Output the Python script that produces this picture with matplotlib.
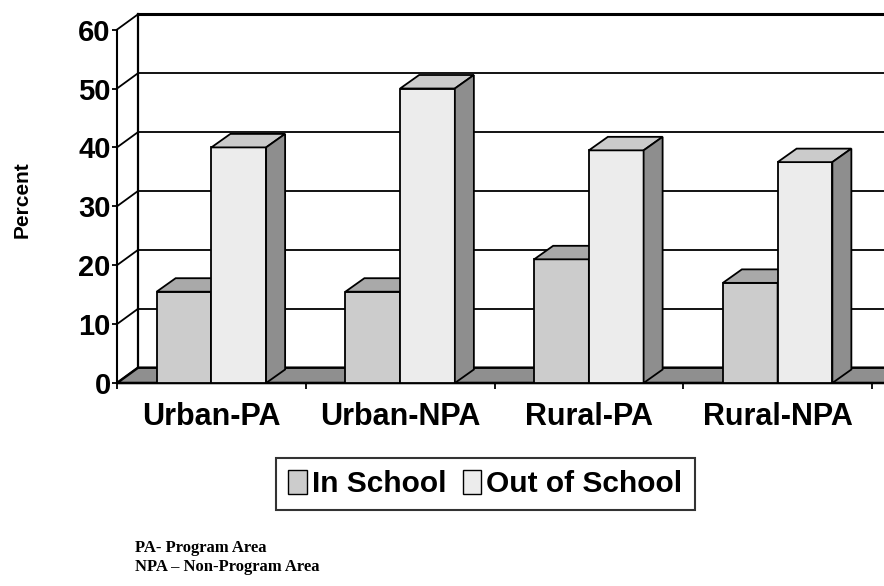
import numpy as np
import matplotlib.pyplot as plt
from matplotlib.patches import Polygon, Patch

categories = ['Urban-PA', 'Urban-NPA', 'Rural-PA', 'Rural-NPA']
in_school = [15.5, 15.5, 21, 17]
out_school = [40, 50, 39.5, 37.5]
series_names = ['In School', 'Out of School']
y_ticks = [0, 10, 20, 30, 40, 50, 60]
notes = ['PA- Program Area', 'NPA \u2013 Non-Program Area']

# цвета граней (перед, верх, бок)
IN_COLORS = ('#cccccc', '#a9a9a9', '#999999')
OUT_COLORS = ('#ececec', '#cbcbcb', '#8e8e8e')
FLOOR = '#8f8f8f'

W, H = 884, 586
# глубина "стенок" и столбиков (в единицах данных)
PX_X = 188.75   # пикселей на категорию
PX_Y = 5.89     # пикселей на 1 %
DXW, DYW = 21 / PX_X, 15.3 / PX_Y
DXB, DYB = 19 / PX_X, 13.5 / PX_Y

plt.rcParams['font.family'] = ['Liberation Sans', 'DejaVu Sans']
fig = plt.figure(figsize=(W / 100, H / 100), dpi=100)
left, bottom, top = 117, 383, 13
ax = fig.add_axes([left / W, (H - bottom) / H, (W - left) / W, (bottom - top) / H])
ax.set_xlim(0, (W - left) / PX_X)
ax.set_ylim(0, (bottom - top) / PX_Y)

n = len(categories)
ymax = y_ticks[-1]

# задняя стенка и линии сетки
for v in y_ticks[1:]:
    lw = 2.2 if v == ymax else 1.3
    ax.plot([DXW, n + DXW + 0.2], [v + DYW, v + DYW], color='black', lw=lw, clip_on=False, zorder=1)
# левая стенка
for v in y_ticks:
    ax.plot([0, DXW], [v, v + DYW], color='black', lw=1.3, clip_on=False, zorder=1)
ax.plot([DXW, DXW], [DYW, ymax + DYW], color='black', lw=1.6, clip_on=False, zorder=1)

# пол
floor = Polygon([(0, 0), (n + 0.2, 0), (n + 0.2 + DXW, DYW), (DXW, DYW)], closed=True,
                facecolor=FLOOR, edgecolor='black', lw=1.8, clip_on=False, zorder=2)
ax.add_patch(floor)

x = np.arange(n) + 0.5
bw = 0.29


def draw_bars(vals, xpos, colors, z):
    bars = ax.bar(xpos, vals, width=bw, color=colors[0], edgecolor='black', lw=1.3, zorder=z)
    for r in bars:
        x0, w, h = r.get_x(), r.get_width(), r.get_height()
        top_face = Polygon([(x0, h), (x0 + w, h), (x0 + w + DXB, h + DYB), (x0 + DXB, h + DYB)],
                           closed=True, facecolor=colors[1], edgecolor='black', lw=1.3, zorder=z)
        side_face = Polygon([(x0 + w, 0), (x0 + w + DXB, DYB), (x0 + w + DXB, h + DYB), (x0 + w, h)],
                            closed=True, facecolor=colors[2], edgecolor='black', lw=1.3, zorder=z)
        ax.add_patch(top_face)
        ax.add_patch(side_face)


draw_bars(in_school, x - bw / 2, IN_COLORS, 4)
draw_bars(out_school, x + bw / 2, OUT_COLORS, 5)

# оси
for s in ['top', 'right']:
    ax.spines[s].set_visible(False)
ax.spines['left'].set_bounds(0, ymax)
ax.spines['bottom'].set_bounds(0, n)
ax.spines['left'].set_linewidth(1.5)
ax.spines['bottom'].set_linewidth(1.5)
ax.set_yticks(y_ticks)
ax.set_yticklabels([str(v) for v in y_ticks], fontsize=21, fontweight='bold')
ax.tick_params(axis='y', direction='out', length=3.5, width=1.3, pad=1)
ax.set_xticks(np.arange(n + 1))
ax.set_xticklabels([])
ax.tick_params(axis='x', which='major', direction='out', length=4, width=1.3)
ax.set_xticks(x, minor=True)
ax.set_xticklabels(categories, minor=True, fontsize=22, fontweight='bold')
ax.tick_params(axis='x', which='minor', length=0, pad=14)

fig.text(22 / W, 1 - 200 / H, 'Percent', rotation=90, fontsize=15, fontweight='bold',
         ha='center', va='center')

handles = [Patch(facecolor=IN_COLORS[0], edgecolor='black', lw=1),
           Patch(facecolor=OUT_COLORS[0], edgecolor='black', lw=1)]
leg = fig.legend(handles, series_names, loc='center', bbox_to_anchor=(485.5 / W, 1 - 484 / H),
                 ncol=2, prop={'size': 21.5, 'weight': 'bold'}, handlelength=0.62, handleheight=0.9,
                 handletextpad=0.17, columnspacing=0.55, borderpad=0.4, fancybox=False,
                 borderaxespad=0)
leg.get_frame().set_edgecolor('black')
leg.get_frame().set_linewidth(1.5)

for i, t in enumerate(notes):
    fig.text(135 / W, 1 - (548 + 19 * i) / H, t, fontsize=12, fontweight='bold',
             family='Liberation Serif', ha='left', va='center')

fig.savefig('out.png', dpi=100)
